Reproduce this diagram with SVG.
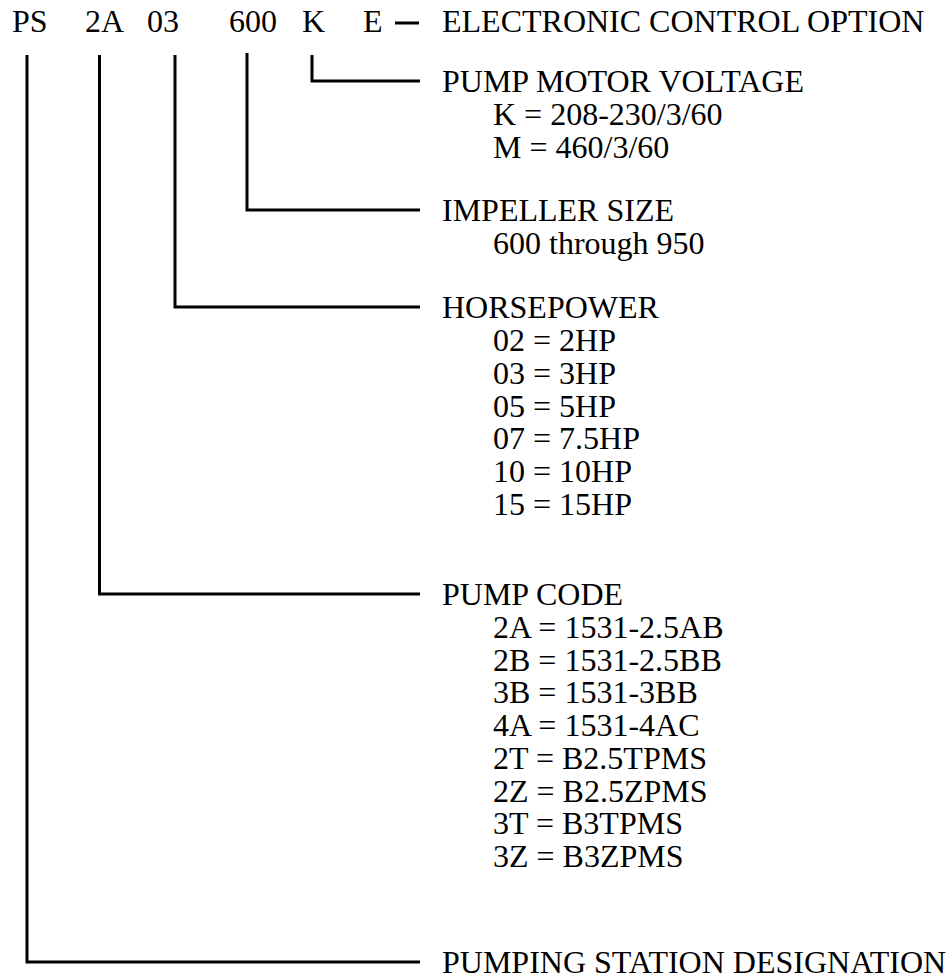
<svg xmlns="http://www.w3.org/2000/svg" width="948" height="979" viewBox="0 0 948 979">
<style>
text{font-family:"Liberation Serif","Times New Roman",serif;font-size:32px;fill:#000}
.c{fill:none;stroke:#000;stroke-width:3}
</style>
<rect width="948" height="979" fill="#fff"/>
<g id="code">
<text x="12" y="32">PS</text>
<text x="85" y="32">2A</text>
<text x="147" y="32">03</text>
<text x="229" y="32">600</text>
<text x="302" y="32">K</text>
<text x="363" y="32">E</text>
</g>
<g id="connectors">
<line class="c" x1="395" y1="23" x2="419" y2="23"/>
<polyline class="c" points="312,55 312,81 420,81"/>
<polyline class="c" points="247,53 247,210 420,210"/>
<polyline class="c" points="175,55 175,307 420,307"/>
<polyline class="c" points="99.5,55 99.5,594 420,594"/>
<polyline class="c" points="27,55 27,962 420,962"/>
</g>
<g id="electronic">
<text x="442" y="32">ELECTRONIC CONTROL OPTION</text>
</g>
<g id="voltage">
<text x="442" y="92">PUMP MOTOR VOLTAGE</text>
<text x="493" y="125">K = 208-230/3/60</text>
<text x="493" y="158">M = 460/3/60</text>
</g>
<g id="impeller">
<text x="442" y="221">IMPELLER SIZE</text>
<text x="493" y="254">600 through 950</text>
</g>
<g id="horsepower">
<text x="442" y="318">HORSEPOWER</text>
<text x="493" y="351">02 = 2HP</text>
<text x="493" y="384">03 = 3HP</text>
<text x="493" y="417">05 = 5HP</text>
<text x="493" y="449">07 = 7.5HP</text>
<text x="493" y="482">10 = 10HP</text>
<text x="493" y="515">15 = 15HP</text>
</g>
<g id="pumpcode">
<text x="442" y="605">PUMP CODE</text>
<text x="493" y="638">2A = 1531-2.5AB</text>
<text x="493" y="671">2B = 1531-2.5BB</text>
<text x="493" y="703">3B = 1531-3BB</text>
<text x="493" y="736">4A = 1531-4AC</text>
<text x="493" y="769">2T = B2.5TPMS</text>
<text x="493" y="802">2Z = B2.5ZPMS</text>
<text x="493" y="834">3T = B3TPMS</text>
<text x="493" y="867">3Z = B3ZPMS</text>
</g>
<g id="station">
<text x="442" y="973">PUMPING STATION DESIGNATION</text>
</g>
</svg>
